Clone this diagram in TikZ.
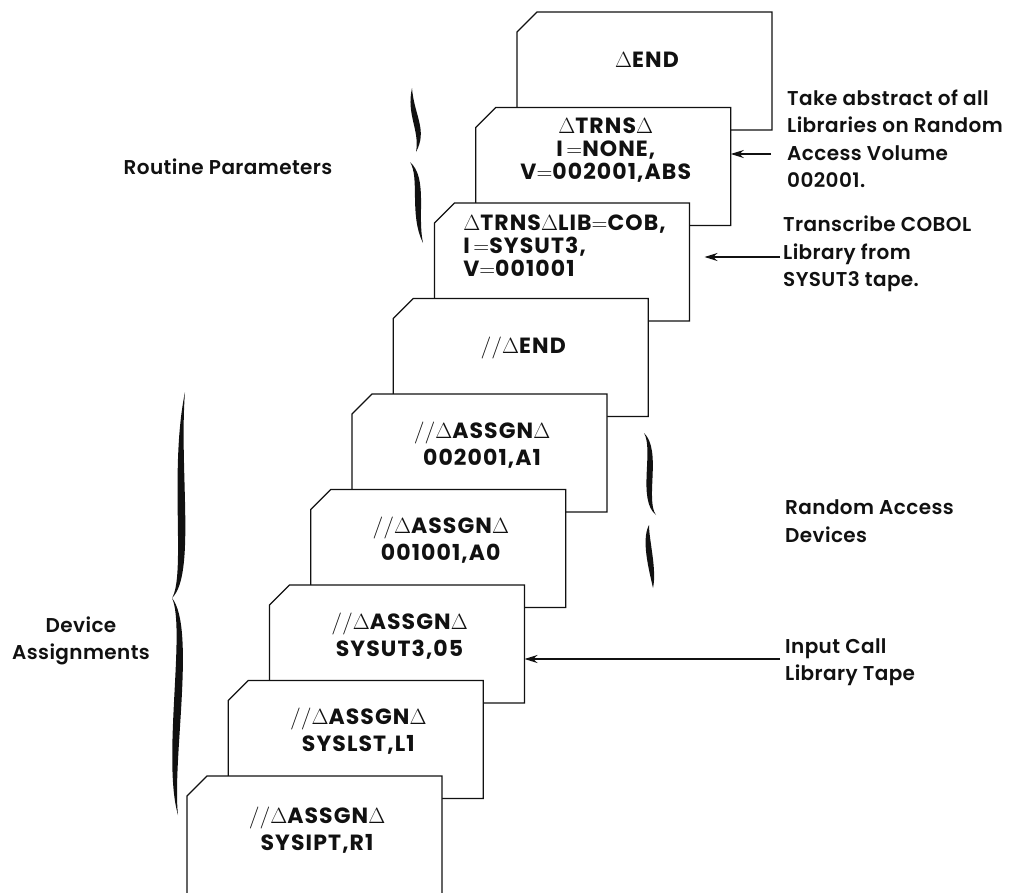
\documentclass[tikz,border=0pt]{standalone}
\usepackage{fix-cm}
\usepackage[no-math]{fontspec}
\setmainfont{Poppins}[LetterSpace=5]
\newfontfamily\lblfont{Poppins SemiBold}[LetterSpace=2]
\usetikzlibrary{arrows.meta}
\definecolor{inkcol}{HTML}{111111}

\begin{document}
\begin{tikzpicture}[x=1pt,y=-1pt,
	card/.style={draw=inkcol,fill=white,line width=1.3pt,line join=miter},
	cardtext/.style={inner sep=0pt,text=inkcol,font=\fontsize{22}{27}\selectfont\bfseries},
	lbl/.style={inner sep=0pt,text=inkcol,align=left,font=\fontsize{20}{27.5}\selectfont\lblfont},
	arr/.style={draw=inkcol,line width=1.6pt,-{Stealth[length=13pt,width=8pt]}},
	brc/.style={fill=inkcol}]
\useasboundingbox (0,0) rectangle (1023,892);
% the deck of cards, back to front
\foreach \txt/\al/\ty [count=\i] in {
	{$\Delta$END}/center/48,
	{$\Delta$TRNS$\Delta$\\[-4pt]I\,{$=$}NONE,\\[-4pt]V{$=$}002001,ABS}/center/43,
	{$\Delta$TRNS$\Delta$LIB{$=$}COB,\\[-4pt]I\,{$=$}SYSUT3,\\[-4pt]V{$=$}001001}/left/43,
	{$//\Delta$END}/center/49,
	{$//\Delta$ASSGN$\Delta$\\002001,A1}/center/51,
	{$//\Delta$ASSGN$\Delta$\\001001,A0}/center/51,
	{$//\Delta$ASSGN$\Delta$\\SYSUT3,05}/center/51,
	{$//\Delta$ASSGN$\Delta$\\SYSLST,L1}/center/51,
	{$//\Delta$ASSGN$\Delta$\\SYSIPT,R1}/center/54%
	}{
	\pgfmathsetmacro\cx{517-41.25*(\i-1)}
	\pgfmathsetmacro\cy{12+95.5*(\i-1)}
	\draw[card] (\cx,\cy+20) -- (\cx+20,\cy) -- (\cx+255,\cy) -- (\cx+255,\cy+118) -- (\cx,\cy+118) -- cycle;
	\coordinate (k\i) at (\cx+255,\cy);
	\node[cardtext,align=\al] (c\i) at (\cx+130,\cy+\ty) {\txt};
	}

% labels
\node[lbl] (rp) at (228,167) {Routine Parameters};
\node[lbl,align=center] (da) at (81,641) {Device\\Assignments};
\node[lbl,anchor=west] (ta) at (787,139) {Take abstract of all\\Libraries on Random\\Access Volume\\002001.};
\node[lbl,anchor=west] (tc) at (783,254) {Transcribe COBOL\\Library from\\SYSUT3 tape.};
\node[lbl,anchor=west] (ra) at (785,521) {Random Access\\Devices};
\node[lbl,anchor=west] (ic) at (785,662) {Input Call\\Library Tape};

% arrows
\coordinate (s1) at (771,154);
\coordinate (s2) at (780,257);
\coordinate (s3) at (780,659);
\draw[arr] (s1) -- (s1 -| k2);
\draw[arr,shorten >=15pt] (s2) -- (s2 -| k3);
\draw[arr] (s3) -- (s3 -| k7);

% braces
\fill[brc] (412,88) .. controls (406,115) and (420,130) .. (416,152) .. controls (428,130) and (414,115) .. (412,88);
\fill[brc] (410,162) .. controls (420,178) and (409,215) .. (423,243) .. controls (417,215) and (428,178) .. (410,162);
\fill[brc] (185,392) .. controls (169,470) and (186,575) .. (172,598) .. controls (196,575) and (179,470) .. (185,392);
\fill[brc] (172,598) .. controls (186,628) and (162,760) .. (178,815) .. controls (172,760) and (196,628) .. (172,598);
\fill[brc] (644,433) .. controls (654,450) and (637,500) .. (656,515) .. controls (645,500) and (662,450) .. (644,433);
\fill[brc] (649,525) .. controls (641,540) and (649,570) .. (653,588) .. controls (657,570) and (649,540) .. (649,525);
\end{tikzpicture}
\end{document}
